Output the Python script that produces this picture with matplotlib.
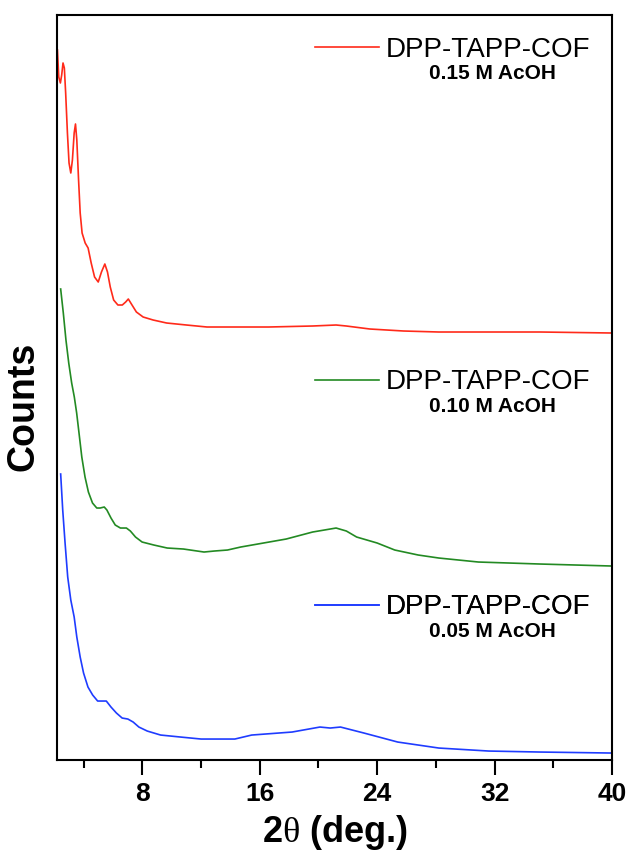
import matplotlib
matplotlib.use("Agg")
import matplotlib.pyplot as plt
from matplotlib.ticker import MultipleLocator

plt.rcParams["font.family"] = ["Liberation Sans", "DejaVu Sans"]
plt.rcParams["mathtext.fontset"] = "custom"
plt.rcParams["mathtext.rm"] = "Liberation Serif"

# values (2theta in deg, counts in arbitrary units)
tt_015 = [2.21, 2.30, 2.41, 2.50, 2.59, 2.68, 2.77, 2.89, 3.00, 3.12, 3.23,
          3.35, 3.44, 3.53, 3.65, 3.76, 3.89, 4.10, 4.30, 4.51, 4.74, 4.99,
          5.21, 5.44, 5.62, 5.81, 6.04, 6.33, 6.63, 6.86, 7.04, 7.25, 7.59,
          8.05, 8.73, 9.65, 11.0, 12.4, 14.7, 16.6, 19.6, 21.2, 21.9, 23.5,
          25.8, 28.2, 35.1, 40.0]
cts_015 = [710, 683, 677, 685, 697, 692, 667, 627, 597, 587, 600,
           627, 636, 620, 580, 547, 527, 517, 512, 497, 483, 478,
           488, 496, 488, 473, 460, 455, 455, 458, 461, 456, 448,
           443, 440, 437, 435, 433, 433, 433, 434, 435, 434, 431,
           429, 428, 428, 427]

tt_010 = [2.43, 2.61, 2.79, 2.98, 3.18, 3.36, 3.52, 3.68, 3.87, 4.09, 4.32,
          4.60, 4.89, 5.12, 5.40, 5.58, 5.86, 6.15, 6.50, 6.91, 7.18, 7.53,
          7.98, 8.78, 9.69, 10.8, 12.2, 12.9, 13.8, 14.7, 17.8, 19.6, 21.2,
          21.9, 22.6, 24.0, 25.2, 26.8, 28.2, 30.9, 35.1, 40.0]
cts_010 = [471, 447, 420, 397, 377, 363, 347, 327, 303, 283, 268,
           257, 252, 252, 253, 250, 242, 235, 232, 232, 229, 223,
           218, 215, 212, 211, 208, 209, 210, 213, 221, 228, 232,
           229, 223, 217, 210, 205, 202, 198, 196, 194]

tt_005 = [2.43, 2.57, 2.73, 2.91, 3.12, 3.35, 3.53, 3.76, 3.99, 4.29, 4.61,
          4.95, 5.25, 5.54, 5.86, 6.23, 6.62, 7.01, 7.37, 7.76, 8.33, 9.24,
          10.6, 12.0, 12.9, 14.3, 15.45, 18.2, 20.1, 20.8, 21.5, 23.1, 25.4,
          28.2, 31.6, 35.1, 40.0]
cts_005 = [286, 250, 217, 183, 160, 143, 123, 103, 87, 73, 65,
           59, 59, 59, 53, 47, 42, 41, 38, 33, 29, 25,
           23, 21, 21, 21, 25, 28, 33, 32, 33, 27, 18,
           12, 9, 8, 7]

name = "DPP-TAPP-COF"
conditions = ["0.15 M AcOH", "0.10 M AcOH", "0.05 M AcOH"]
colors = ["#ff2a1a", "#238a23", "#1f3cff"]

fig = plt.figure(figsize=(6.31, 8.56), dpi=100)
ax = fig.add_axes([0.0908, 0.1121, 0.879, 0.8704])

series = [(tt_015, cts_015), (tt_010, cts_010), (tt_005, cts_005)]
lines = []
for (x, y), c in zip(series, colors):
    ln, = ax.plot(x, y, color=c, lw=1.2)
    lines.append(ln)

ax.set_xlim(2.2, 40)
ax.set_ylim(0, 745)
ax.xaxis.set_major_locator(MultipleLocator(8))
ax.xaxis.set_minor_locator(MultipleLocator(4))
ax.set_yticks([])
ax.tick_params(axis="x", which="major", direction="out", length=11, width=1.5,
               pad=5, labelsize=19)
ax.tick_params(axis="x", which="minor", direction="out", length=6, width=1.5)
for lab in ax.get_xticklabels():
    lab.set_fontweight("bold")
for sp in ax.spines.values():
    sp.set_linewidth(1.5)

ax.set_xlabel(r"2$\mathrm{\theta}$ (deg.)", fontsize=26, fontweight="bold",
              labelpad=5)
ax.set_ylabel("Counts", fontsize=27, fontweight="bold")
ax.yaxis.set_label_coords(-0.029, 0.475)

# one small legend per curve, with the acid concentration under it
leg_y = [0.953, 0.507, 0.205]
sub_y = [0.922, 0.475, 0.173]
for ln, ly, sy, cond in zip(lines, leg_y, sub_y, conditions):
    leg = ax.legend([ln], [name], loc="center left", bbox_to_anchor=(0.465, ly),
                    frameon=False, fontsize=20, handlelength=2.3,
                    handletextpad=0.25, borderpad=0, borderaxespad=0)
    ax.add_artist(leg)
    ax.text(0.670, sy, cond, transform=ax.transAxes, fontsize=15,
            fontweight="bold", va="center", ha="left")

fig.savefig("out.png", dpi=100)
